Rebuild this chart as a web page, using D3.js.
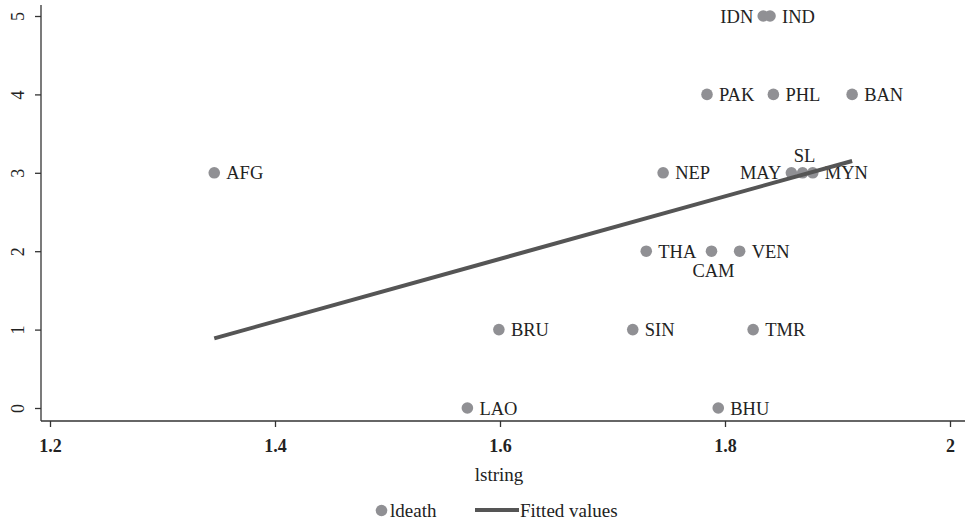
<!DOCTYPE html>
<html><head><meta charset="utf-8">
<script src="https://cdn.jsdelivr.net/npm/d3@7"></script>
<style>body{margin:0;background:#fff}svg{display:block}text{font-family:"Liberation Serif","Times New Roman",serif;fill:#222}</style>
</head><body><svg id="c" width="967" height="520"></svg>
<script>
const countries = ["AFG","IDN","IND","PAK","PHL","BAN","NEP","MAY","SL","MYN","THA","CAM","VEN","BRU","SIN","TMR","LAO","BHU"];
const lstring   = [1.346,1.834,1.840,1.784,1.843,1.913,1.745,1.859,1.869,1.878,1.730,1.788,1.813,1.599,1.718,1.825,1.571,1.794];
const ldeath    = [3,5,5,4,4,4,3,3,3,3,2,2,2,1,1,1,0,0];
const labelPos  = ["r","l","r","r","r","r","r","l","t","r","r","b","r","r","r","r","r","r"];
const xTicks = [1.2,1.4,1.6,1.8,2];
const yTicks = [0,1,2,3,4,5];

const svg = d3.select("#c");
const x = d3.scaleLinear().domain([1.2,2]).range([50,950]);
const y = d3.scaleLinear().domain([0,5]).range([408,16]);
const X0 = 41, Y0 = 421;

// axes
const xa = svg.append("g").attr("transform",`translate(0,${Y0})`)
  .call(d3.axisBottom(x).tickValues(xTicks).tickFormat(d3.format("")).tickSize(6).tickSizeOuter(0));
xa.attr("font-family",null).attr("font-size",null);
xa.select(".domain").remove();
xa.append("line").attr("x1",X0).attr("x2",965).attr("stroke","#333").attr("stroke-width",1.3);
xa.selectAll(".tick line").attr("stroke","#333").attr("stroke-width",1.3);
xa.selectAll(".tick text").attr("y",31).attr("dy",null)
  .attr("font-size","18px").attr("font-weight","bold").attr("fill","#222");

const ya = svg.append("g").attr("transform",`translate(${X0},0)`)
  .call(d3.axisLeft(y).tickValues(yTicks).tickFormat(d3.format("d")).tickSize(6).tickSizeOuter(0));
ya.attr("font-family",null).attr("font-size",null);
ya.select(".domain").remove();
ya.append("line").attr("y1",5).attr("y2",Y0).attr("stroke","#333").attr("stroke-width",1.3);
ya.selectAll(".tick line").attr("stroke","#333").attr("stroke-width",1.3);
ya.selectAll(".tick text").attr("x",null).attr("dy",null)
  .attr("transform","translate(-17,0) rotate(-90)").attr("text-anchor","middle")
  .attr("font-size","18px").attr("fill","#222");

// OLS fit
const mx = d3.mean(lstring), my = d3.mean(ldeath);
const b = d3.sum(lstring,(v,i)=>(v-mx)*(ldeath[i]-my)) / d3.sum(lstring,v=>(v-mx)*(v-mx));
const a = my - b*mx;
const ext = d3.extent(lstring);
const fit = ext.map(v=>[v, a+b*v]);

const data = countries.map((c,i)=>({c, x:lstring[i], y:ldeath[i], p:labelPos[i]}));
const g = svg.append("g");
g.selectAll("circle").data(data).join("circle")
  .attr("cx",d=>x(d.x)).attr("cy",d=>y(d.y)).attr("r",5.8).attr("fill","#909094");

svg.append("path").datum(fit)
  .attr("d",d3.line().x(d=>x(d[0])).y(d=>y(d[1])))
  .attr("stroke","#555").attr("stroke-width",4).attr("fill","none");

g.selectAll("text").data(data).join("text")
  .attr("x",d=>x(d.x)+(d.p==="r"?12:d.p==="l"?-10:2))
  .attr("y",d=>y(d.y)+(d.p==="t"?-11:d.p==="b"?26:6.5))
  .attr("text-anchor",d=>d.p==="r"?"start":d.p==="l"?"end":"middle")
  .attr("font-size","18.5px").text(d=>d.c);

// axis title
svg.append("text").attr("x",499).attr("y",481).attr("text-anchor","middle").attr("font-size","19px").text("lstring");

// legend
svg.append("circle").attr("cx",381.5).attr("cy",510.5).attr("r",5.8).attr("fill","#909094");
svg.append("text").attr("x",390).attr("y",517).attr("font-size","19px").text("ldeath");
svg.append("line").attr("x1",475).attr("x2",519).attr("y1",510).attr("y2",510).attr("stroke","#555").attr("stroke-width",4);
svg.append("text").attr("x",520).attr("y",517).attr("font-size","19px").text("Fitted values");
</script></body></html>
